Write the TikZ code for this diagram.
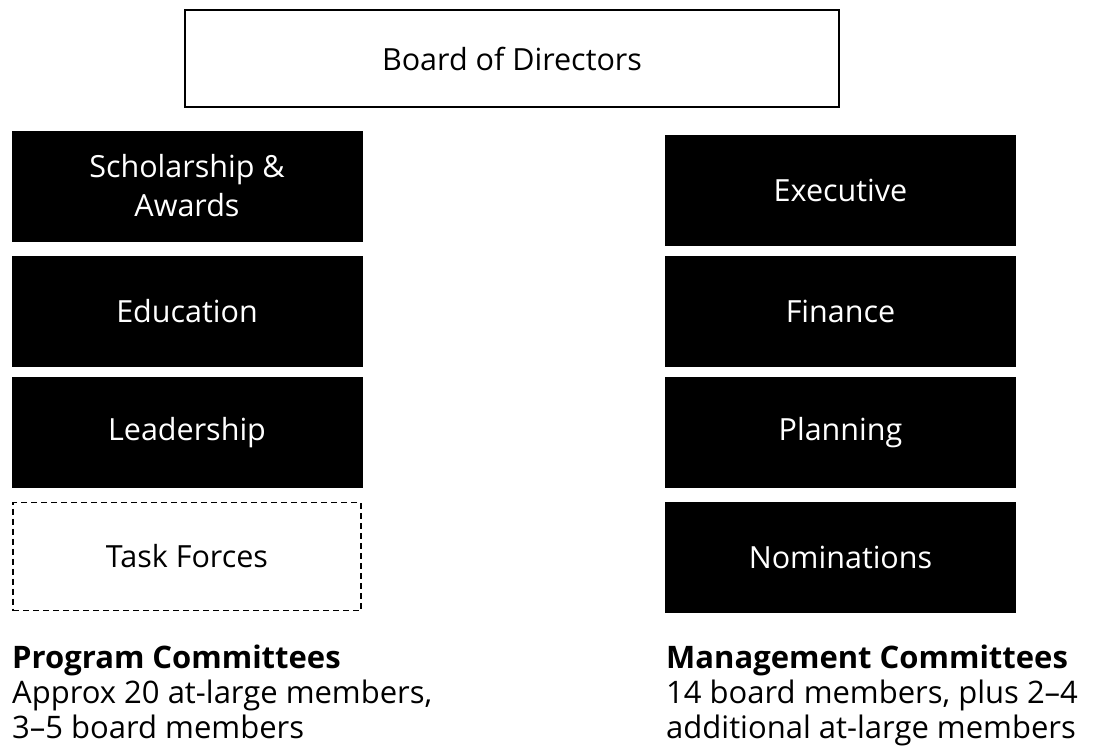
\documentclass[tikz,border=0pt]{standalone}
\usepackage{fontspec}
\setmainfont{Open Sans}
\begin{document}
\begin{tikzpicture}[x=1pt,y=-1pt,
  boxfont/.style={font=\fontsize{30.5}{39}\selectfont},
  blackbox/.style={boxfont,fill=black,draw=black,text=white,minimum width=350pt,minimum height=110pt,align=center,inner sep=0pt},
  dashbox/.style={boxfont,draw=black,line width=1.2pt,dash pattern=on 6pt off 4pt,minimum width=348pt,minimum height=108pt,align=center,inner sep=0pt},
  boardbox/.style={boxfont,draw=black,line width=1.2pt,minimum width=654pt,minimum height=97pt,inner sep=0pt},
  note/.style={anchor=base west,inner sep=0pt,font=\fontsize{31}{35}\selectfont}]
\useasboundingbox (0,0) rectangle (1096,753);
\node[boardbox] (board) at (512,58.5) {Board of Directors};
\node[blackbox] (schol) at (187,186) {Scholarship \&\\Awards};
\node[blackbox] (edu) at (187,311) {Education};
\node[blackbox] (lead) at (187,432.5) {Leadership};
\node[dashbox] (task) at (187,556.5) {Task Forces};
\node[blackbox] (exec) at (840.5,190) {Executive};
\node[blackbox] (fin) at (840.5,311) {Finance};
\node[blackbox] (plan) at (840.5,432.5) {Planning};
\node[blackbox] (nom) at (840.5,557) {Nominations};
\node[note] (prog) at (12,668) {\textbf{Program Committees}};
\node[note] (prog2) at (12,703) {Approx 20 at-large members,};
\node[note] (prog3) at (12,738) {3–5 board members};
\node[note] (mgmt) at (666,668) {\textbf{Management Committees}};
\node[note] (mgmt2) at (666,703) {14 board members, plus 2–4};
\node[note] (mgmt3) at (666,738) {additional at-large members};
\end{tikzpicture}
\end{document}
